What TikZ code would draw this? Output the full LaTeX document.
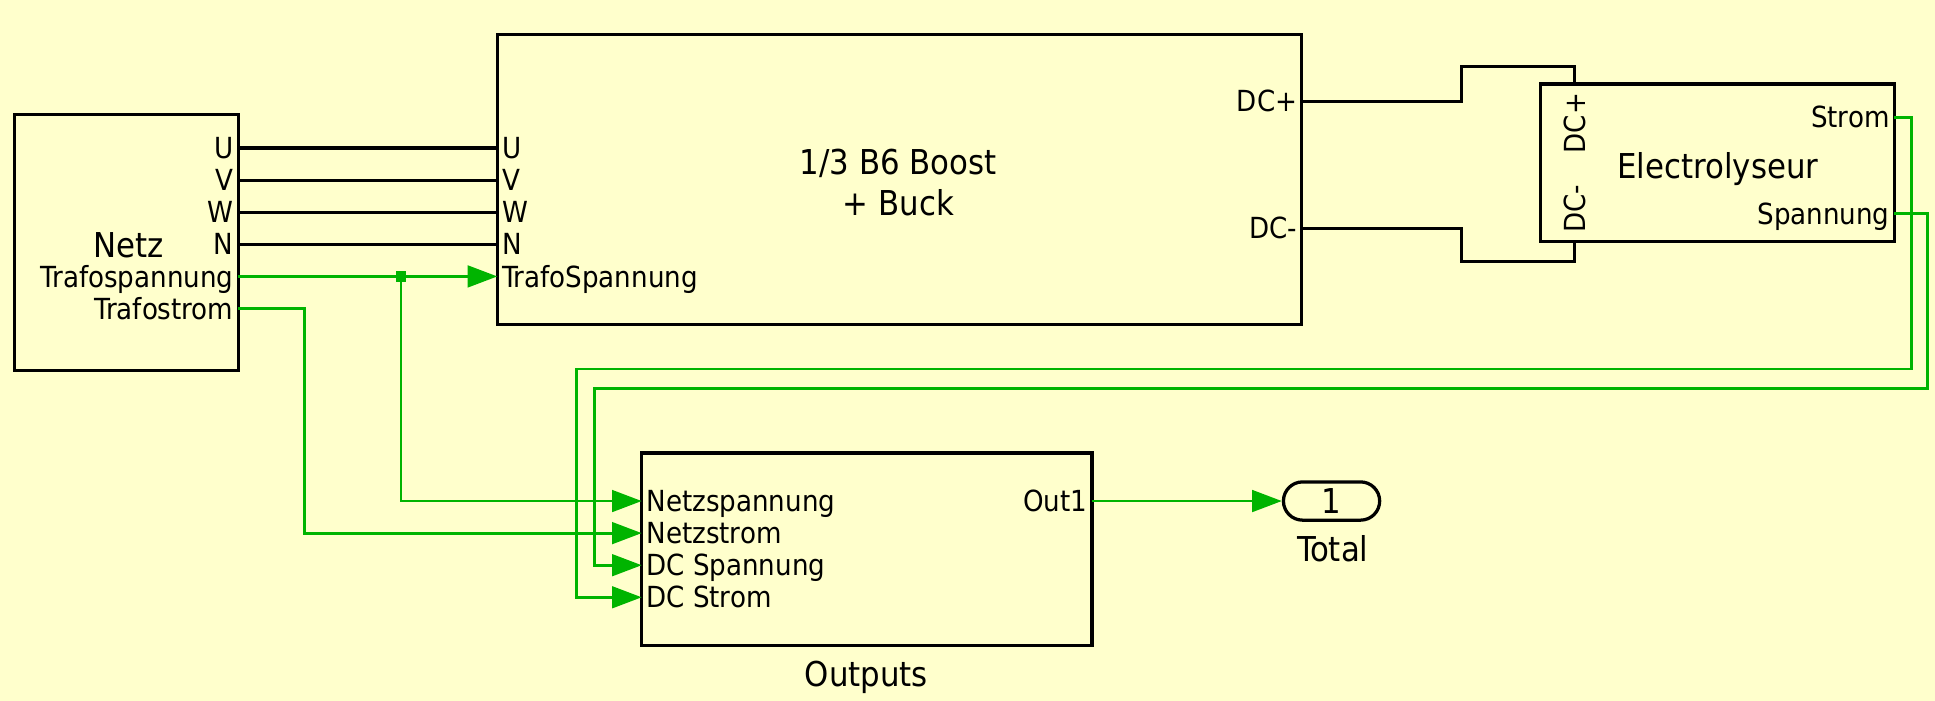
\documentclass[tikz,border=0pt]{standalone}
\usepackage{fontspec}
\setmainfont{DejaVu Sans Condensed}
\usetikzlibrary{arrows.meta}
\definecolor{bgyellow}{RGB}{255,255,204}
\definecolor{siggreen}{RGB}{0,180,0}
\begin{document}
\begin{tikzpicture}[x=0.02cm, y=-0.02cm,
        block/.style = {draw, line width=1.5pt, inner sep=0pt},
        blocktitle/.style = {font=\fontsize{15.8}{18.7}\selectfont, align=center, inner sep=0pt},
        portl/.style = {font=\fontsize{13.4}{15}\selectfont, inner sep=2pt, text height=9.8pt, text depth=0pt, anchor=west},
        portr/.style = {portl, anchor=east},
        wire/.style = {line width=1.5pt},
        sig/.style = {line width=1.3pt, siggreen},
        sigin/.style = {sig, -{Triangle[length=0.48cm, width=0.35cm]}}
    ]
        \fill[bgyellow] (0,0) rectangle (1568,568);
        \useasboundingbox (0,0) rectangle (1568,568);
        % Netz
        \node[block, minimum width=3.62cm, minimum height=4.14cm] (netz) at (102.5,196.5) {};
        \node[blocktitle] (netzname) at (104,199) {Netz};
        \foreach \name/\txt/\y in {nU/U/120, nV/V/146, nW/W/172, nN/N/198, nTS/Trafospannung/224, nTI/Trafostrom/250}
            \node[portr] (\name) at (193,\y) {\txt};
        % 1/3 B6 Boost + Buck
        \node[block, minimum width=13.04cm, minimum height=4.7cm] (boost) at (729,145.5) {};
        \node[blocktitle] (boostname) at (728,148) {1/3 B6 Boost\\+ Buck};
        \foreach \name/\txt/\y in {bU/U/120, bV/V/146, bW/W/172, bN/N/198, bTS/TrafoSpannung/224}
            \node[portl] (\name) at (403,\y) {\txt};
        \node[portr] (bDCp) at (1055,82) {DC+};
        \node[portr] (bDCm) at (1055,185) {DC-};
        % Electrolyseur
        \node[block, minimum width=5.74cm, minimum height=2.56cm] (elec) at (1391.5,132) {};
        \node[blocktitle] (elecname) at (1392,137) {Electrolyseur};
        \node[portr, rotate=90, inner sep=4pt] (eDCp) at (1276,68) {DC+};
        \node[portl, rotate=90, inner sep=4pt] (eDCm) at (1276,196) {DC-};
        \node[portr] (eI) at (1535,95) {Strom};
        \node[portr] (eU) at (1535,173) {Spannung};
        % Outputs
        \node[block, minimum width=7.3cm, minimum height=3.12cm] (outs) at (702.5,445) {};
        \node[blocktitle] (outsname) at (702,549) {Outputs};
        \foreach \name/\txt/\y in {oNU/Netzspannung/406, oNI/Netzstrom/432, oDU/DC Spannung/458, oDI/DC Strom/484}
            \node[portl] (\name) at (520,\y) {\txt};
        \node[portr] (oOut) at (885,406) {Out1};
        % Total
        \node[block, rounded corners=0.31cm, minimum width=1.56cm, minimum height=0.62cm, font=\fontsize{15.8}{18.7}\selectfont] (total) at (1079,406) {1};
        \node[blocktitle] (totalname) at (1080,444.5) {Total};
        % connectors
        \foreach \p in {U,V,W,N}
            \draw[wire] (n\p.east) -- (b\p.west);
        \draw[sigin] (nTS.east) -- (bTS.west);
        \node[fill=siggreen, minimum size=0.17cm, inner sep=0pt] (split) at (325,224) {};
        \draw[sigin] (split.center) |- (oNU.west);
        \draw[sigin] (nTI.east) -| (247,432) -- (oNI.west);
        \draw[wire] (bDCp.east) -| (1184,54) -| (eDCp.east);
        \draw[wire] (bDCm.east) -| (1184,212) -| (eDCm.west);
        \draw[sigin] (eI.east) -| (1549,299) -| (467,484) -- (oDI.west);
        \draw[sigin] (eU.east) -| (1562,315) -| (482,458) -- (oDU.west);
        \draw[sigin] (oOut.east) -- (total.west);
    \end{tikzpicture}
\end{document}
